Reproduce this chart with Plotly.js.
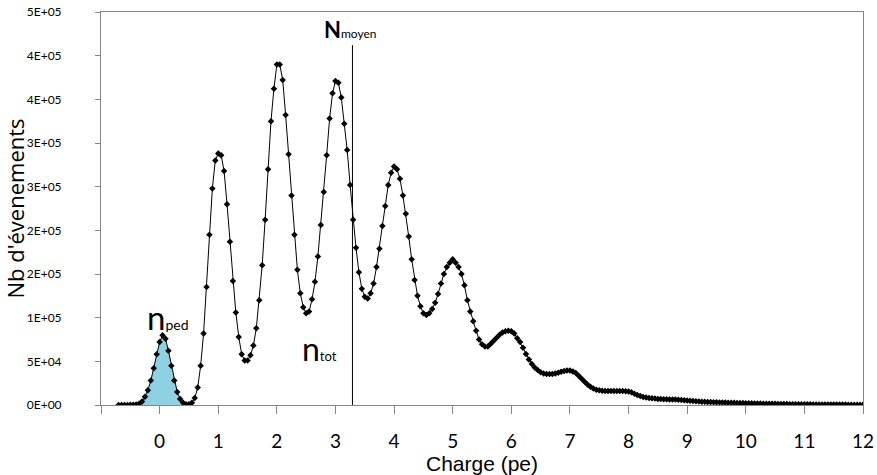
<!DOCTYPE html>
<html>
<head>
<meta charset="utf-8">
<script src="https://cdn.plot.ly/plotly-3.0.1.min.js"></script>
<style>html,body{margin:0;padding:0;background:#fff;}#chart{width:877px;height:475px;}</style>
</head>
<body>
<div id="chart"></div>
<script>
// Charge (pe)
const charge = [
 -0.70,-0.65,-0.60,-0.55,-0.50,-0.45,-0.40,-0.35,-0.30,-0.25,-0.20,-0.15,-0.10,-0.05,
 0.00,0.05,0.10,0.15,0.20,0.25,0.30,0.35,0.40,0.45,0.50,0.55,0.60,0.65,0.70,0.75,0.80,0.85,0.90,0.95,
 1.00,1.05,1.10,1.15,1.20,1.25,1.30,1.35,1.40,1.45,1.50,1.55,1.60,1.65,1.70,1.75,1.80,1.85,1.90,1.95,
 2.00,2.05,2.10,2.15,2.20,2.25,2.30,2.35,2.40,2.45,2.50,2.55,2.60,2.65,2.70,2.75,2.80,2.85,2.90,2.95,
 3.00,3.05,3.10,3.15,3.20,3.25,3.30,3.35,3.40,3.45,3.50,3.55,3.60,3.65,3.70,3.75,3.80,3.85,3.90,3.95,
 4.00,4.05,4.10,4.15,4.20,4.25,4.30,4.35,4.40,4.45,4.50,4.55,4.60,4.65,4.70,4.75,4.80,4.85,4.90,4.95,
 5.00,5.05,5.10,5.15,5.20,5.25,5.30,5.35,5.40,5.45,5.50,5.55,5.60,5.65,5.70,5.75,5.80,5.85,5.90,5.95,
 6.00,6.05,6.10,6.15,6.20,6.25,6.30,6.35,6.40,6.45,6.50,6.55,6.60,6.65,6.70,6.75,6.80,6.85,6.90,6.95,
 7.00,7.05,7.10,7.15,7.20,7.25,7.30,7.35,7.40,7.45,7.50,7.55,7.60,7.65,7.70,7.75,7.80,7.85,7.90,7.95,
 8.00,8.05,8.10,8.15,8.20,8.25,8.30,8.35,8.40,8.45,8.50,8.55,8.60,8.65,8.70,8.75,8.80,8.85,8.90,8.95,
 9.00,9.05,9.10,9.15,9.20,9.25,9.30,9.35,9.40,9.45,9.50,9.55,9.60,9.65,9.70,9.75,9.80,9.85,9.90,9.95,
 10.00,10.05,10.10,10.15,10.20,10.25,10.30,10.35,10.40,10.45,10.50,10.55,10.60,10.65,10.70,10.75,10.80,10.85,10.90,10.95,
 11.00,11.05,11.10,11.15,11.20,11.25,11.30,11.35,11.40,11.45,11.50,11.55,11.60,11.65,11.70,11.75,11.80,11.85,11.90,11.95,
 12.00
];
// Nb d'évenements
const events = [
 0,0,100,100,200,300,600,1500,4000,9500,17000,28000,42000,58000,
 72000,80000,76000,62000,45000,28000,15000,7000,2500,800,1000,2500,8000,20000,45000,82000,135000,195000,248000,280000,
 288000,286000,268000,230000,187000,142000,106000,78000,58000,51000,51000,57000,68000,88000,120000,160000,212000,270000,325000,362000,
 390000,390000,372000,332000,287000,240000,195000,155000,128000,112000,105000,107000,121000,141000,170000,206000,244000,286000,328000,357000,
 371000,369000,352000,322000,292000,252000,212000,180000,152000,133000,124000,122000,128000,139000,158000,179000,205000,228000,252000,266000,
 273000,270000,259000,240000,219000,193000,167000,143000,125000,113000,105000,103000,105000,110000,117000,127000,139000,150000,158000,163000,
 167000,163000,158000,150000,137000,120000,107000,96000,85000,75000,69500,67000,67000,70000,73600,77000,80500,83000,84500,85000,
 84500,82000,76500,72000,65500,58500,52000,47000,43000,40000,37500,36000,35500,35500,35500,36000,37000,38000,39000,39500,
 39500,38500,36500,33500,30000,26500,23500,21000,19000,17500,16800,16200,16000,16000,16000,16000,16000,16000,16000,15800,
 15500,14500,13000,11500,10200,9200,8500,8000,7600,7300,7000,6800,6600,6500,6400,6300,6200,6000,5800,5500,
 5200,4900,4600,4300,4000,3800,3600,3400,3300,3200,3100,3000,2900,2800,2700,2600,2500,2400,2300,2200,
 2100,2000,1900,1800,1700,1600,1550,1500,1400,1350,1300,1250,1200,1150,1100,1000,950,900,850,800,
 780,750,720,690,660,630,600,580,560,540,520,500,480,460,440,420,400,380,360,340,
 320
];
const pedRange = [-0.35, 0.45];   // shaded pedestal (n_ped)
const nMoyen = 3.29;               // N moyen marker
const xTickVals = [-1,0,1,2,3,4,5,6,7,8,9,10,11,12];
const xTickText = ['','0','1','2','3','4','5','6','7','8','9','10','11','12'];
const yTickVals = [0,50000,100000,150000,200000,250000,300000,350000,400000,450000];
const yTickText = ['0E+00','5E+04','1E+05','2E+05','2E+05','3E+05','3E+05','4E+05','4E+05','5E+05'];

const pedX = [], pedY = [];
charge.forEach((c, i) => { if (c >= pedRange[0] - 1e-9 && c <= pedRange[1] + 1e-9) { pedX.push(c); pedY.push(events[i]); } });

const axisColor = '#868686';
const data = [
  { x: pedX, y: pedY, type: 'scatter', mode: 'lines', fill: 'tozeroy',
    fillcolor: '#8DD1E3', line: { width: 0, color: '#8DD1E3' }, hoverinfo: 'skip', showlegend: false },
  { x: charge, y: events, type: 'scatter', mode: 'lines+markers',
    line: { color: '#000', width: 1 },
    marker: { symbol: 'diamond', size: 5, color: '#000' }, showlegend: false }
];

const layout = {
  width: 877, height: 475,
  margin: { l: 101, r: 14, t: 12, b: 70 },
  paper_bgcolor: '#fff', plot_bgcolor: '#fff',
  showlegend: false,
  xaxis: {
    range: [-1, 12], tickmode: 'array', tickvals: xTickVals, ticktext: xTickText,
    showgrid: false, zeroline: false, showline: true, mirror: true, linecolor: axisColor, linewidth: 1,
    ticks: 'outside', ticklen: 8, tickcolor: axisColor, ticklabelstandoff: 11,
    tickfont: { family: 'Lato, sans-serif', size: 19, color: '#000' },
    title: { text: 'Charge (pe)', standoff: 0, font: { family: 'Liberation Sans, Arial, sans-serif', size: 21, color: '#000' } }
  },
  yaxis: {
    range: [0, 450000], tickmode: 'array', tickvals: yTickVals, ticktext: yTickText,
    showgrid: false, zeroline: false, showline: true, mirror: true, linecolor: axisColor, linewidth: 1,
    ticks: 'outside', ticklen: 5, tickcolor: axisColor, ticklabelstandoff: 31,
    tickfont: { family: 'Lato, sans-serif', size: 12, color: '#000' },
    title: { text: "Nb d'évenements", standoff: 0, font: { family: 'Open Sans, sans-serif', size: 22, color: '#000' } }
  },
  shapes: [
    { type: 'line', xref: 'x', yref: 'y', x0: nMoyen, x1: nMoyen, y0: 0, y1: 412000, line: { color: '#000', width: 1 } }
  ],
  annotations: [
    { x: nMoyen - 0.04, y: 430000, xref: 'x', yref: 'y', showarrow: false,
      text: "<b>N</b><span style='font-size:12px'>moyen</span>",
      font: { family: 'Lato, sans-serif', size: 22, color: '#000' } },
    { x: 0.14, y: 101000, xref: 'x', yref: 'y', showarrow: false,
      text: "n<span style='font-size:14px'>ped</span>",
      font: { family: 'Lato, sans-serif', size: 33, color: '#000' } },
    { x: 2.72, y: 65000, xref: 'x', yref: 'y', showarrow: false,
      text: "n<span style='font-size:13px'>tot</span>",
      font: { family: 'Lato, sans-serif', size: 32, color: '#000' } }
  ]
};

Plotly.newPlot('chart', data, layout, { staticPlot: true, displayModeBar: false });
</script>
</body>
</html>
